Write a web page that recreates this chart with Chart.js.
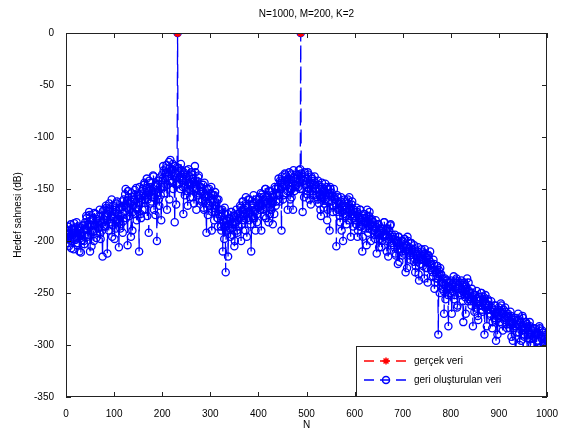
<!DOCTYPE html>
<html>
<head>
<meta charset="utf-8">
<script src="https://cdn.jsdelivr.net/npm/chart.js@4.4.0/dist/chart.umd.min.js"></script>
<style>
  html, body { margin: 0; padding: 0; background: #fff; }
  #wrap { width: 562px; height: 435px; }
</style>
</head>
<body>
<div id="wrap"><canvas id="chart" width="562" height="435"></canvas></div>
<script>
// geri oluşturulan veri (dB)
// even N = 0, 2, ... 1000 : 20 values (40 N) per row
const reconEven = [
  -190, -198, -186, -205, -193, -184, -200, -192, -208, -188, -196, -182, -202, -190, -210, -187, -195, -199, -185, -203,
  -182, -176, -196, -186, -172, -210, -180, -190, -178, -200, -185, -174, -192, -181, -188, -170, -198, -183, -215, -179,
  -170, -186, -168, -212, -174, -164, -182, -176, -196, -166, -178, -172, -188, -162, -180, -206, -170, -184, -167, -192,
  -160, -172, -150, -168, -204, -158, -176, -162, -154, -190, -166, -156, -174, -149, -170, -163, -210, -159, -178, -152,
  -150, -146, -170, -156, -140, -160, -192, -148, -144, -162, -152, -138, -158, -175, -146, -154, -142, -166, -150, -180,
  -136, -128, -148, -140, -130, -170, -134, -124, -142, -132, -144, -126, -138, -182, -135, -146,    0, -130, -140, -150,
  -132, -142, -174, -136, -148, -132, -152, -144, -138, -158, -134, -146, -140, -164, -128, -150, -142, -156, -137, -160,
  -148, -162, -152, -168, -144, -158, -192, -156, -164, -150, -162, -148, -172, -156, -180, -153, -166, -160, -186, -170,
  -170, -186, -176, -210, -180, -168, -230, -190, -174, -184, -178, -196, -172, -188, -182, -205, -176, -170, -192, -180,
  -178, -166, -200, -170, -162, -180, -174, -158, -196, -168, -172, -160, -184, -165, -176, -156, -170, -190, -163, -174,
  -168, -158, -164, -190, -155, -170, -160, -150, -178, -158, -164, -152, -174, -162, -156, -184, -158, -148, -166, -154,
  -150, -140, -162, -144, -190, -148, -156, -142, -136, -138, -152, -145, -134, -160, -141, -150, -170, -139, -147, -143,
  -136, -144, -132, -150,    0, -138, -172, -142, -134, -146, -140, -152, -136, -160, -145, -138, -148, -156, -142, -150,
  -146, -158, -142, -164, -150, -176, -144, -156, -168, -152, -160, -148, -170, -154, -190, -150, -162, -157, -166, -158,
  -160, -205, -156, -170, -164, -182, -158, -172, -200, -166, -162, -176, -168, -160, -180, -170, -196, -165, -174, -178,
  -172, -180, -168, -196, -176, -186, -170, -182, -210, -178, -174, -188, -181, -170, -192, -176, -184, -200, -179, -186,
  -186, -194, -180, -212, -192, -184, -198, -190, -206, -188, -196, -182, -194, -188, -200, -215, -190, -185, -198, -194,
  -198, -206, -194, -214, -200, -222, -196, -208, -202, -210, -200, -212, -198, -230, -204, -196, -210, -206, -218, -202,
  -208, -216, -204, -230, -212, -220, -206, -238, -214, -218, -210, -224, -212, -208, -226, -216, -240, -214, -220, -222,
  -222, -230, -218, -246, -228, -236, -224, -290, -232, -226, -232, -246, -240, -270, -236, -244, -238, -252, -240, -246,
  -238, -270, -244, -234, -252, -240, -236, -262, -246, -242, -250, -238, -248, -278, -240, -254, -244, -236, -258, -248,
  -250, -258, -246, -282, -256, -252, -264, -248, -272, -258, -254, -262, -250, -268, -256, -290, -252, -260, -266, -258,
  -262, -270, -258, -284, -266, -274, -262, -296, -268, -272, -264, -278, -260, -270, -286, -266, -274, -268, -280, -272,
  -272, -280, -268, -292, -278, -284, -274, -306, -280, -276, -270, -288, -278, -296, -282, -274, -290, -284, -278, -300,
  -282, -290, -278, -300, -286, -294, -284, -312, -290, -304, -288, -296, -282, -308, -292, -286, -318, -294, -300, -290,
  -296
];
// odd N = 1, 3, ... 999 : 20 values (40 N) per row
const reconOdd = [
  -194, -186, -202, -190, -197, -207, -188, -193, -183, -199, -191, -204, -186, -196, -189, -211, -192, -185, -200, -195,
  -188, -178, -184, -194, -175, -186, -205, -180, -191, -173, -184, -197, -179, -187, -176, -193, -182, -190, -171, -186,
  -176, -166, -180, -171, -190, -169, -177, -160, -185, -174, -198, -170, -164, -179, -174, -168, -188, -176, -162, -181,
  -166, -155, -178, -161, -152, -170, -164, -196, -158, -172, -160, -151, -168, -180, -157, -165, -148, -174, -161, -170,
  -155, -144, -160, -149, -176, -152, -142, -164, -150, -158, -137, -170, -147, -154, -200, -145, -160, -139, -156, -148,
  -140, -132, -154, -135, -127, -146, -138, -160, -122, -142, -131, -150, -137, -128, -165, -129, -133, -145, -138, -126,
  -140, -148, -134, -156, -142, -138, -166, -131, -150, -145, -136, -158, -143, -150, -134, -170, -146, -139, -152, -148,
  -152, -160, -146, -170, -155, -164, -150, -175, -158, -166, -154, -190, -160, -168, -156, -172, -163, -178, -160, -174,
  -176, -190, -170, -182, -198, -174, -186, -180, -215, -178, -188, -172, -194, -184, -176, -200, -182, -190, -174, -186,
  -174, -168, -184, -162, -176, -170, -190, -166, -172, -160, -180, -174, -210, -168, -164, -178, -172, -160, -182, -166,
  -160, -170, -154, -166, -158, -176, -162, -150, -168, -156, -182, -160, -152, -170, -164, -158, -174, -150, -162, -156,
  -148, -156, -142, -150, -138, -160, -146, -135, -154, -143, -170, -140, -150, -136, -158, -145, -132, -152, -140, -146,
  -140, -148, -136, -131, -135, -150, -142, -158, -138, -146, -155, -134, -150, -144, -165, -140, -152, -146, -138, -156,
  -150, -160, -146, -156, -170, -148, -158, -152, -164, -145, -156, -180, -150, -162, -148, -158, -154, -172, -150, -160,
  -164, -172, -158, -168, -176, -162, -190, -166, -174, -160, -170, -184, -164, -172, -158, -176, -168, -162, -186, -170,
  -176, -184, -172, -190, -178, -170, -186, -180, -196, -174, -182, -178, -204, -176, -188, -172, -184, -180, -190, -182,
  -190, -198, -186, -194, -184, -206, -192, -188, -200, -194, -182, -196, -190, -210, -188, -198, -194, -184, -202, -196,
  -204, -198, -212, -202, -208, -196, -220, -204, -200, -214, -206, -198, -210, -204, -226, -200, -208, -214, -202, -210,
  -212, -220, -208, -224, -214, -210, -232, -216, -222, -208, -218, -214, -236, -212, -220, -226, -214, -218, -210, -228,
  -226, -234, -222, -240, -230, -224, -236, -228, -250, -232, -240, -236, -248, -242, -256, -238, -246, -282, -244, -250,
  -242, -248, -240, -256, -244, -238, -264, -246, -250, -240, -252, -246, -258, -242, -248, -270, -246, -252, -240, -256,
  -254, -262, -250, -258, -268, -252, -260, -256, -276, -254, -262, -250, -266, -258, -254, -264, -260, -282, -256, -262,
  -266, -272, -264, -278, -268, -262, -276, -270, -290, -266, -274, -268, -262, -280, -270, -276, -264, -272, -284, -270,
  -276, -284, -272, -280, -296, -276, -282, -274, -288, -280, -276, -300, -278, -286, -272, -282, -292, -278, -284, -280,
  -286, -294, -282, -290, -300, -286, -292, -284, -306, -288, -296, -290, -284, -302, -294, -288, -298, -292, -310, -296
];

// gerçek veri: only the two non-zero components (dB)
const trueN = [232, 488];
const trueVals = [0, 0];

const xTicks = [0, 100, 200, 300, 400, 500, 600, 700, 800, 900, 1000];
const yTicks = [0, -50, -100, -150, -200, -250, -300, -350];

const titleText = 'N=1000, M=200, K=2';
const xLabel = 'N';
const yLabel = 'Hedef sahnesi (dB)';
const legendLabels = ['gerçek veri', 'geri oluşturulan veri'];

const FONT = '"Liberation Sans", Arial, Helvetica, sans-serif';
const BLUE = '#0000ff';
const RED = '#ff0000';

// interleave even and odd samples back into N order
const reconPoints = [];
reconEven.forEach((v, i) => {
  reconPoints.push({ x: 2 * i, y: v });
  if (i < reconOdd.length) reconPoints.push({ x: 2 * i + 1, y: reconOdd[i] });
});
const truePoints = trueN.map((n, i) => ({ x: n, y: trueVals[i] }));

// box, inward ticks, title and legend drawn like the MATLAB figure
const matlabFrame = {
  id: 'matlabFrame',
  afterDraw(chart) {
    const { ctx, chartArea: a, scales } = chart;
    ctx.save();
    ctx.strokeStyle = '#222';
    ctx.lineWidth = 1;
    ctx.strokeRect(a.left + 0.5, a.top + 0.5, a.right - a.left - 1, a.bottom - a.top - 1);
    ctx.beginPath();
    xTicks.forEach(t => {
      const x = Math.round(scales.x.getPixelForValue(t)) + 0.5;
      ctx.moveTo(x, a.bottom); ctx.lineTo(x, a.bottom - 5);
      ctx.moveTo(x, a.top); ctx.lineTo(x, a.top + 5);
    });
    yTicks.forEach(t => {
      const y = Math.round(scales.y.getPixelForValue(t)) + 0.5;
      ctx.moveTo(a.left, y); ctx.lineTo(a.left + 5, y);
      ctx.moveTo(a.right, y); ctx.lineTo(a.right - 5, y);
    });
    ctx.stroke();

    // title
    ctx.fillStyle = '#000';
    ctx.font = '10px ' + FONT;
    ctx.textAlign = 'center';
    ctx.textBaseline = 'middle';
    ctx.fillText(titleText, (a.left + a.right) / 2, 14);

    // legend box in lower right corner
    const bx = 356, by = a.bottom - 51, bw = a.right - bx, bh = 51;
    ctx.fillStyle = '#fff';
    ctx.fillRect(bx, by, bw, bh);
    ctx.strokeStyle = '#222';
    ctx.strokeRect(bx + 0.5, by + 0.5, bw - 1, bh - 1);
    const rows = [
      { y: by + 15, color: RED, style: 'star', fill: RED },
      { y: by + 34, color: BLUE, style: 'circle', fill: 'rgba(0,0,0,0)' }
    ];
    rows.forEach((r, i) => {
      ctx.strokeStyle = r.color;
      ctx.lineWidth = 1.5;
      ctx.setLineDash([10, 6]);
      ctx.beginPath();
      ctx.moveTo(bx + 8, r.y); ctx.lineTo(bx + 52, r.y);
      ctx.stroke();
      ctx.setLineDash([]);
      ctx.fillStyle = r.fill;
      Chart.helpers.drawPoint(ctx, {
        pointStyle: r.style, radius: 3.5, borderWidth: 1.5, rotation: 0
      }, bx + 30, r.y);
      ctx.fillStyle = '#000';
      ctx.font = '10px ' + FONT;
      ctx.textAlign = 'left';
      ctx.fillText(legendLabels[i], bx + 58, r.y);
    });
    ctx.restore();
  }
};

new Chart(document.getElementById('chart'), {
  type: 'scatter',
  data: {
    datasets: [
      {
        label: legendLabels[0],
        data: truePoints,
        showLine: false,
        pointStyle: 'star',
        pointRadius: 4,
        pointBorderWidth: 2,
        borderColor: RED,
        backgroundColor: RED,
        order: 0
      },
      {
        label: legendLabels[1],
        data: reconPoints,
        showLine: true,
        borderColor: BLUE,
        borderWidth: 1.3,
        borderDash: [14, 7],
        pointStyle: 'circle',
        pointRadius: 3.6,
        pointBorderWidth: 1.3,
        pointBorderColor: BLUE,
        pointBackgroundColor: 'rgba(0,0,0,0)',
        backgroundColor: 'rgba(0,0,0,0)',
        tension: 0,
        order: 1
      }
    ]
  },
  options: {
    responsive: false,
    animation: false,
    layout: { padding: { top: 33, right: 15, left: 0, bottom: 0 } },
    plugins: {
      legend: { display: false },
      tooltip: { enabled: false },
      title: { display: false }
    },
    scales: {
      x: {
        type: 'linear',
        min: 0,
        max: 1000,
        afterBuildTicks: s => { s.ticks = xTicks.map(v => ({ value: v })); },
        afterFit: s => { s.height = 38; },
        grid: { display: false },
        border: { display: false },
        ticks: { color: '#000', font: { family: FONT, size: 10 }, padding: 3, maxRotation: 0, callback: v => String(v) },
        title: { display: true, text: xLabel, color: '#000', font: { family: FONT, size: 10 }, padding: { top: 2 } }
      },
      y: {
        type: 'linear',
        min: -350,
        max: 0,
        afterBuildTicks: s => { s.ticks = yTicks.map(v => ({ value: v })); },
        afterFit: s => { s.width = 66; },
        grid: { display: false },
        border: { display: false },
        ticks: { color: '#000', font: { family: FONT, size: 10 }, padding: 4, callback: v => String(v) },
        title: { display: true, text: yLabel, color: '#000', font: { family: FONT, size: 10 }, padding: { top: 12, bottom: 2 } }
      }
    }
  },
  plugins: [matlabFrame]
});
</script>
</body>
</html>
